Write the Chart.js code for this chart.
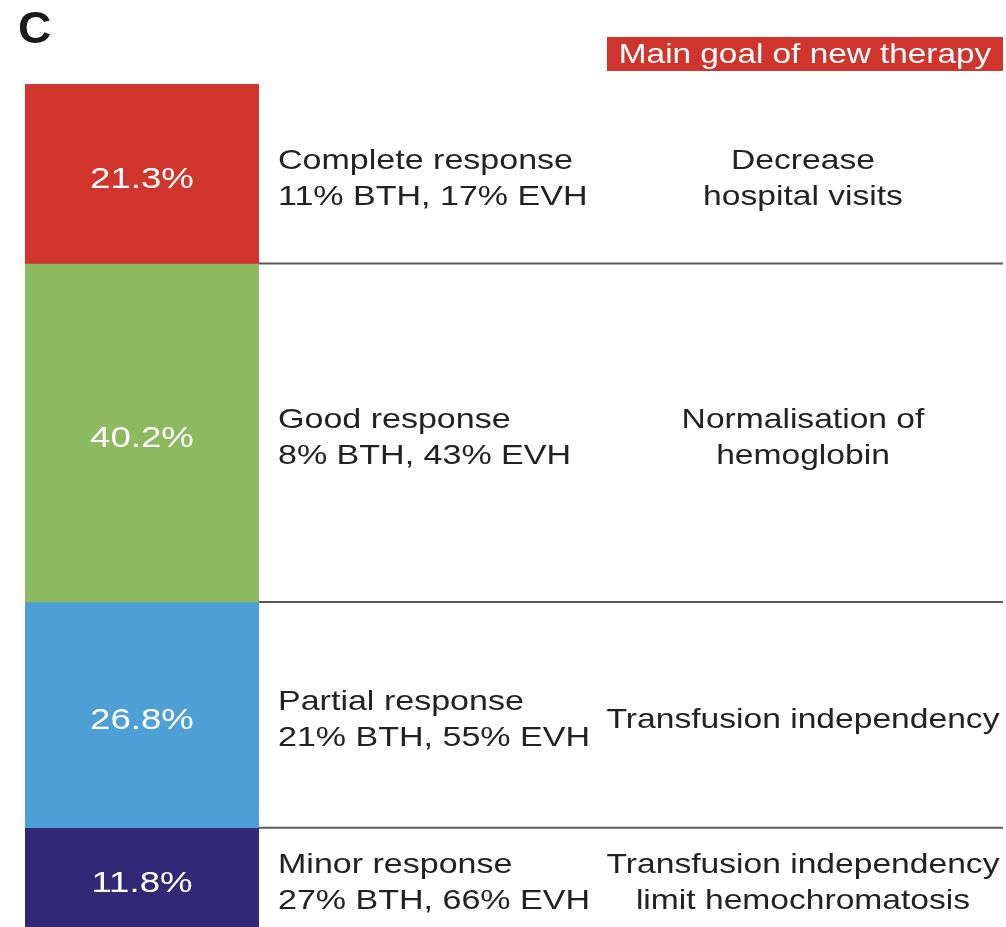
<!DOCTYPE html>
<html>
<head>
<meta charset="utf-8">
<script src="https://cdn.jsdelivr.net/npm/chart.js@4"></script>
<style>
  body { margin: 0; background: #fff; }
  canvas { display: block; }
</style>
</head>
<body>
<canvas id="respChart" width="1006" height="927"></canvas>
<script>
// response categories, top to bottom
var categories = ["Complete response", "Good response", "Partial response", "Minor response"];
var shares = [21.3, 40.2, 26.8, 11.8];
var bthRates = [11, 8, 21, 27];
var evhRates = [17, 43, 55, 66];
var goals = [["Decrease", "hospital visits"],
             ["Normalisation of", "hemoglobin"],
             ["Transfusion independency"],
             ["Transfusion independency", "limit hemochromatosis"]];
var barColors = ["#d0352d", "#8dba60", "#4f9fd7", "#332875"];

var FONT = "'Liberation Sans', Arial, sans-serif";
var STRETCH = 1.215;

function stretchText(ctx, txt, x, y, sx) {
  ctx.save();
  ctx.translate(x, y);
  ctx.scale(sx || STRETCH, 1);
  ctx.fillText(txt, 0, 0);
  ctx.restore();
}

var annotate = {
  id: "annotate",
  afterDatasetsDraw: function(chart) {
    var ctx = chart.ctx;
    var area = chart.chartArea;
    var yScale = chart.scales.y;
    var cx = (area.left + area.right) / 2;
    var rightEdge = chart.width - 3;

    ctx.save();
    ctx.textBaseline = "middle";

    // panel letter
    ctx.fillStyle = "#1a1a1a";
    ctx.font = "bold 44px " + FONT;
    ctx.textAlign = "left";
    stretchText(ctx, "C", 18, 31, 1.05);

    // header box
    ctx.fillStyle = "#d0352d";
    ctx.fillRect(607, 37, 396, 34);
    ctx.fillStyle = "#fff";
    ctx.font = "28px " + FONT;
    ctx.textAlign = "center";
    stretchText(ctx, "Main goal of new therapy", 805, 55, 1.19);

    var cum = 0;
    for (var i = 0; i < shares.length; i++) {
      var y0 = yScale.getPixelForValue(cum);
      cum += shares[i];
      var y1 = yScale.getPixelForValue(cum);
      var mid = (y0 + y1) / 2 + 6;

      // value inside bar
      ctx.fillStyle = "#fff";
      ctx.font = "30px " + FONT;
      ctx.textAlign = "center";
      stretchText(ctx, shares[i].toFixed(1) + "%", cx, mid, 1.22);

      // response description
      ctx.fillStyle = "#222";
      ctx.font = "28px " + FONT;
      ctx.textAlign = "left";
      stretchText(ctx, categories[i], 278, mid - 18);
      stretchText(ctx, bthRates[i] + "% BTH, " + evhRates[i] + "% EVH", 278, mid + 18);

      // therapy goal
      ctx.textAlign = "center";
      var g = goals[i];
      for (var j = 0; j < g.length; j++) {
        var off = (j - (g.length - 1) / 2) * 36;
        stretchText(ctx, g[j], 803, mid + off, 1.2);
      }

      // separator
      if (i < shares.length - 1) {
        ctx.strokeStyle = "#5a5a5a";
        ctx.lineWidth = 2;
        ctx.beginPath();
        ctx.moveTo(area.right, y1);
        ctx.lineTo(rightEdge, y1);
        ctx.stroke();
      }
    }
    ctx.restore();
  }
};

var datasets = [];
for (var i = 0; i < shares.length; i++) {
  datasets.push({
    label: categories[i],
    data: [shares[i]],
    backgroundColor: barColors[i],
    borderWidth: 0,
    barPercentage: 1,
    categoryPercentage: 1
  });
}

var totalShare = shares.reduce(function(a, b) { return a + b; }, 0);

new Chart(document.getElementById("respChart"), {
  type: "bar",
  data: { labels: [""], datasets: datasets },
  options: {
    responsive: false,
    animation: false,
    layout: { padding: { left: 25, right: 747, top: 84, bottom: 0 } },
    plugins: { legend: { display: false }, tooltip: { enabled: false } },
    scales: {
      x: { stacked: true, display: false },
      y: { stacked: true, display: false, reverse: true, min: 0, max: totalShare }
    }
  },
  plugins: [annotate]
});
</script>
</body>
</html>
